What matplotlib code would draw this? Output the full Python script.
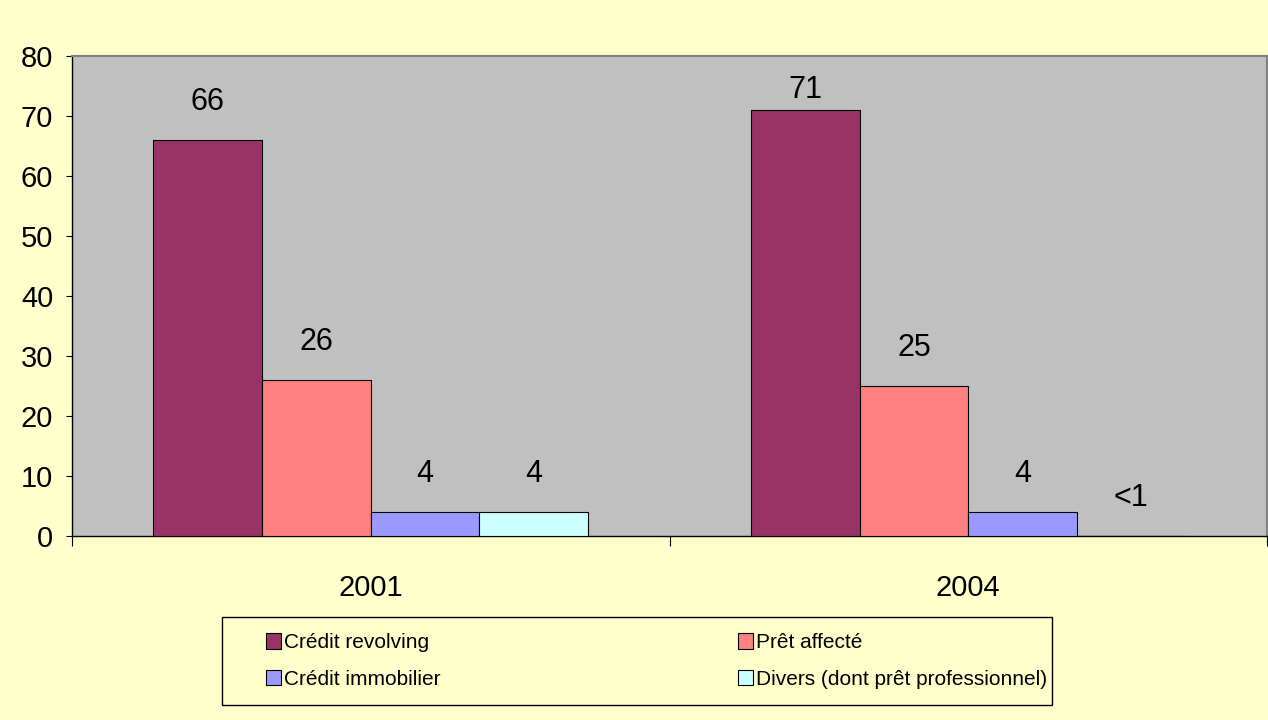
import matplotlib
matplotlib.use("Agg")
import matplotlib.pyplot as plt
from matplotlib.patches import Rectangle
import numpy as np

plt.rcParams['font.family'] = ['Liberation Sans', 'DejaVu Sans']

years = ["2001", "2004"]
series_names = ["Crédit revolving", "Prêt affecté", "Crédit immobilier",
                "Divers (dont prêt professionnel)"]
revolving = [66, 71]
pret_affecte = [26, 25]
immobilier = [4, 4]
divers = [4, 0]
divers_labels = ["4", "<1"]
colors = ["#993366", "#FF8080", "#9999FF", "#CCFFFF"]

series = [revolving, pret_affecte, immobilier, divers]
labels = [[str(v) for v in revolving], [str(v) for v in pret_affecte],
          [str(v) for v in immobilier], divers_labels]

W, H = 1268, 720
fig = plt.figure(figsize=(W/100, H/100), dpi=100, facecolor="#FFFFCC")
ax = fig.add_axes([72/W, 1 - 536/H, 1195/W, 480/H])
ax.set_facecolor("#C0C0C0")

x = np.arange(len(years))
w = 1 / 5.5
bars = []
for i, (vals, lab) in enumerate(zip(series, labels)):
    pos = x + (i - 1.5) * w
    b = ax.bar(pos, vals, width=w, color=colors[i], edgecolor="black",
               linewidth=0.8, label=series_names[i], zorder=3)
    bars.append(b)
    for px, v, t in zip(pos, vals, lab):
        ly = min(v + 6.3, 80 - 5.7)
        ax.text(px, ly, t, ha="center", va="center", fontsize=22, zorder=4)

ax.set_xlim(-0.5, 1.5)
ax.set_ylim(0, 80)
ax.set_yticks(range(0, 81, 10))
ax.tick_params(axis="y", direction="out", length=4.5, width=0.8, pad=9, labelsize=21)
ax.set_xticks(x)
ax.set_xticklabels(years)
ax.tick_params(axis="x", which="major", length=0, pad=27, labelsize=21)
ax.set_xticks([-0.5, 0.5, 1.5], minor=True)
ax.tick_params(axis="x", which="minor", direction="out", length=7, width=0.8)

for s in ["top", "right"]:
    ax.spines[s].set_color("#808080")
    ax.spines[s].set_linewidth(1.5)
for s in ["left", "bottom"]:
    ax.spines[s].set_color("black")
    ax.spines[s].set_linewidth(1.0)

# legend box
fig.patches.append(Rectangle((222/W, 1 - 705/H), 830/W, 88/H,
                             transform=fig.transFigure, facecolor="#FFFFCC",
                             edgecolor="black", linewidth=1.0, zorder=0))

order = [0, 2, 1, 3]
handles = [bars[i] for i in order]
names = [series_names[i] for i in order]
leg = fig.legend(handles, names, ncol=2, loc="center left",
                 bbox_to_anchor=(266/W, 1 - 661/H), fontsize=15,
                 frameon=False, handlelength=0.7,
                 handleheight=0.75, handletextpad=0.15, columnspacing=14.3,
                 borderpad=0, borderaxespad=0, labelspacing=0.85)

fig.savefig("out.png", dpi=100, facecolor=fig.get_facecolor())
